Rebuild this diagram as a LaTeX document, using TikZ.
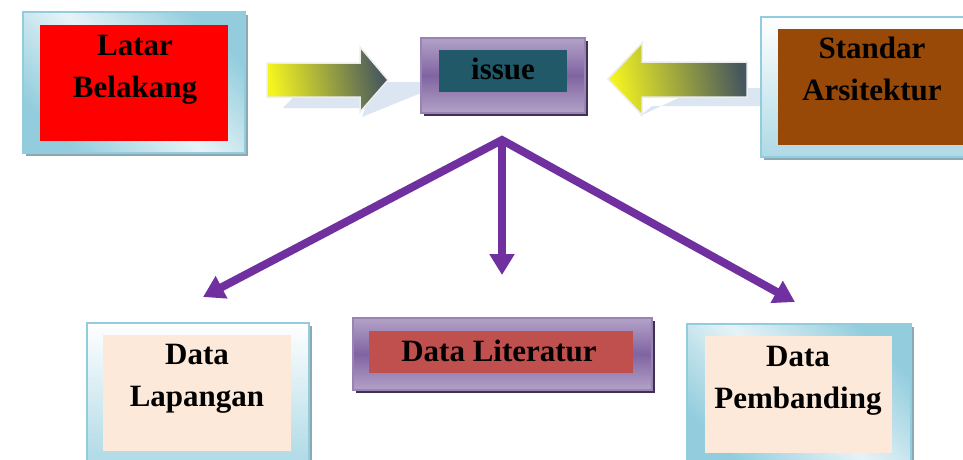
\documentclass[tikz,border=0pt]{standalone}
\usepackage{fontspec}
\setmainfont{Liberation Serif}
\usetikzlibrary{arrows.meta,shadows}
\definecolor{frameblue}{HTML}{93CDDD}
\definecolor{framelight}{HTML}{E6F3F7}
\definecolor{shadowblue}{HTML}{8CA9B3}
\definecolor{purpleA}{HTML}{B3A2C7}
\definecolor{purpleB}{HTML}{8064A2}
\definecolor{purpleShadow}{HTML}{3F3151}
\definecolor{arrowpurple}{HTML}{7030A0}
\definecolor{teal}{HTML}{215968}
\definecolor{brown}{HTML}{984807}
\definecolor{peach}{HTML}{FDE9D9}
\definecolor{redbrown}{HTML}{C0504D}
\definecolor{yel}{HTML}{F4F420}
\definecolor{slate}{HTML}{45565E}
\definecolor{paleshadow}{HTML}{DCE6F2}
\tikzset{
  bluefrm/.style={draw=frameblue, line width=1.2pt, inner sep=0pt,
    drop shadow={shadow xshift=3pt, shadow yshift=-3pt, fill=shadowblue, opacity=1}},
  bluediag/.style={bluefrm, top color=frameblue, bottom color=frameblue, middle color=framelight, shading angle=-45},
  bluevert/.style={bluefrm, top color=white, bottom color=frameblue!75},
  purplefrm/.style={draw=purpleB!80, line width=1.2pt, inner sep=0pt,
    top color=purpleA, bottom color=purpleA, middle color=purpleB,
    drop shadow={shadow xshift=3pt, shadow yshift=-3pt, fill=purpleShadow, opacity=1}},
  innerbox/.style={inner sep=0pt, draw=none},
  lbl/.style={font=\fontsize{31}{42}\selectfont\bfseries, align=center, anchor=base, inner sep=0pt, text=black},
  yarrow/.style={draw=white!93!black, line width=1.5pt, left color=yel, right color=slate, shading angle=100},
  flow/.style={draw=arrowpurple, line width=8pt, line join=miter}
}
\begin{document}
\begin{tikzpicture}[x=1pt,y=-1pt]
\useasboundingbox (0,0) rectangle (963,459);
\clip (0,0) rectangle (963,459);
\fill[white] (0,0) rectangle (963,459);

% arrow shadows
\fill[paleshadow] (283,108) -- (365,108) -- (362,117) -- (421,93) -- (421,82) -- (380,82) -- (300,90) -- cycle;
\fill[paleshadow] (640,116) -- (652,106) -- (761,106) -- (761,88) -- (700,88) -- cycle;

% yellow arrows
\path[yarrow] (267,63) -- (360,63) -- (360,47) -- (388,80) -- (360,112) -- (360,97) -- (267,97) -- cycle;
\path[yarrow] (608,79) -- (642,43) -- (642,62) -- (747,62) -- (747,97) -- (642,97) -- (642,115) -- cycle;

% Latar Belakang
\node[bluediag, minimum width=222pt, minimum height=141pt] (lbF) at (134,82.5) {};
\node[innerbox, fill=red, minimum width=188pt, minimum height=116pt] (lbI) at (134,83) {};
\node[lbl] (lbT) at (135,97) {Latar\\Belakang};

% issue
\node[purplefrm, minimum width=164pt, minimum height=75pt] (isF) at (503,75.5) {};
\node[innerbox, fill=teal, minimum width=128pt, minimum height=42pt] (isI) at (503,71) {};
\node[lbl] (isT) at (503,79) {issue};

% Standar Arsitektur
\node[bluevert, minimum width=224pt, minimum height=140pt] (saF) at (873,87) {};
\node[innerbox, fill=brown, minimum width=188pt, minimum height=116pt] (saI) at (872,87) {};
\node[lbl] (saT) at (872,100) {Standar\\Arsitektur};

% Data Lapangan
\node[bluevert, minimum width=222pt, minimum height=141pt] (dlF) at (198,393.5) {};
\node[innerbox, fill=peach, minimum width=188pt, minimum height=116pt] (dlI) at (197,393) {};
\node[lbl] (dlT) at (197,406) {Data\\Lapangan};

% Data Literatur
\node[purplefrm, minimum width=299pt, minimum height=72pt] (dtF) at (502.5,354) {};
\node[innerbox, fill=redbrown, minimum width=264pt, minimum height=42pt] (dtI) at (501,352) {};
\node[lbl] (dtT) at (499,361) {Data Literatur};

% Data Pembanding
\node[bluediag, minimum width=224pt, minimum height=141pt] (dpF) at (799,394.5) {};
\node[innerbox, fill=peach, minimum width=187pt, minimum height=117pt] (dpI) at (798.5,394.5) {};
\node[lbl] (dpT) at (798,408) {Data\\Pembanding};

% purple flow arrows
\coordinate (hub) at (502,140);
\coordinate (tL) at (203,297);
\coordinate (tM) at (502,275);
\coordinate (tR) at (795,302);
\draw[flow, {Triangle[length=21pt,width=24pt]}-{Triangle[length=21pt,width=24pt]}] (tL) -- (hub) -- (tR);
\draw[flow, -{Triangle[length=21pt,width=24pt]}] (hub) -- (tM);
\end{tikzpicture}
\end{document}
